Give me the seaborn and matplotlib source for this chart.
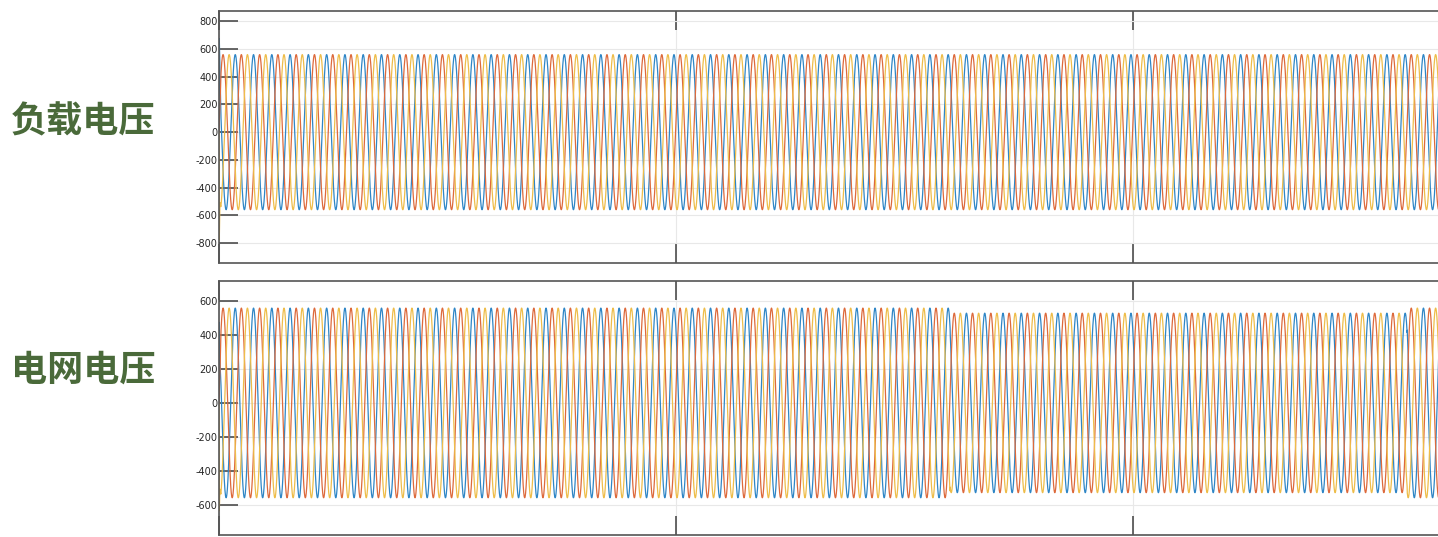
import numpy as np
import pandas as pd
import matplotlib.pyplot as plt
import seaborn as sns

# values (three-phase voltages, 50 Hz)
freq_hz = 50
t_end = 1.5
phase_names = ["A", "B", "C"]
phase_peak_deg = [320, 80, 200]          # angle where each phase peaks at t=0
phase_colors = ["#2f86c6", "#dd6a3c", "#eebd4a"]

load_amp = [560, 560]                    # amplitude before / during sag
grid_amp = [560, 530]
sag_window = [0.8, 1.3]

# start-up transient points (time, value) per phase
load_start_t = [0.0, 0.0003, 0.0010, 0.0020]
load_start = {"A": [0, 700, 560, 300], "B": [0, 60, 120, 300], "C": [0, -780, -520, -560]}
grid_start_t = [0.0, 0.0003, 0.0010, 0.0020]
grid_start = {"A": [0, 500, 330, 300], "B": [0, 60, 120, 300], "C": [0, -640, -520, -560]}

load_yticks = [-800, -600, -400, -200, 0, 200, 400, 600, 800]
grid_yticks = [-600, -400, -200, 0, 200, 400, 600]
x_ticks = [0, 0.5, 1.0, 1.5]
panel_titles = ["负载电压", "电网电压"]


def build_frame(amps, start_t, start_vals):
    t = np.arange(0, t_end, 0.0001)
    in_sag = (t >= sag_window[0]) & (t < sag_window[1])
    amp = np.where(in_sag, amps[1], amps[0])
    rows = []
    for name, deg in zip(phase_names, phase_peak_deg):
        v = amp * np.cos(2 * np.pi * freq_hz * t - np.deg2rad(deg))
        # blend in the start-up transient
        head = t <= start_t[-1]
        v_head = np.interp(t[head], start_t, start_vals[name])
        steady_end = v[head][-1]
        v[head] = v_head + (steady_end - start_vals[name][-1]) * (t[head] / start_t[-1])
        rows.append(pd.DataFrame({"t": t, "v": v, "phase": name}))
    return pd.concat(rows, ignore_index=True)


load_df = build_frame(load_amp, load_start_t, load_start)
grid_df = build_frame(grid_amp, grid_start_t, grid_start)

sns.set_style("white")
plt.rcParams["font.family"] = ["DejaVu Sans"]

fig = plt.figure(figsize=(14.38, 5.37), dpi=100)
W, H = 1438, 537
ax_top = fig.add_axes([219 / W, 1 - 263 / H, 1371 / W, 252 / H])
ax_bot = fig.add_axes([219 / W, 1 - 535 / H, 1371 / W, 254 / H])

panels = [
    (ax_top, load_df, load_yticks, (-945, 875), 122),
    (ax_bot, grid_df, grid_yticks, (-780, 720), 370),
]

for (ax, df, yticks, ylim, label_y), title in zip(panels, panel_titles):
    sns.lineplot(data=df, x="t", y="v", hue="phase", palette=phase_colors,
                 estimator=None, sort=False, linewidth=0.9, legend=False, ax=ax)
    ax.set_xlim(0, t_end)
    ax.set_ylim(*ylim)
    ax.set_xticks(x_ticks)
    ax.set_yticks(yticks)
    ax.set_yticklabels([str(v) for v in yticks], fontsize=7, color="#262626")
    ax.tick_params(axis="both", direction="in", length=14, width=1.2, color="#4d4d4d",
                   top=True, bottom=True, left=True, right=False,
                   labelbottom=False, pad=1)
    ax.grid(True, color="#e8e8e8", linewidth=0.8)
    ax.set_axisbelow(True)
    ax.set_xlabel("")
    ax.set_ylabel("")
    for side in ["top", "bottom", "left"]:
        ax.spines[side].set_color("#555555")
        ax.spines[side].set_linewidth(1.2)
    ax.spines["right"].set_visible(False)
    fig.text(83 / W, 1 - label_y / H, title, ha="center", va="center",
             fontsize=26, fontweight="bold", color="#4a6a3a",
             family=["Noto Sans CJK SC", "DejaVu Sans"])

fig.savefig("out.png", dpi=100)
